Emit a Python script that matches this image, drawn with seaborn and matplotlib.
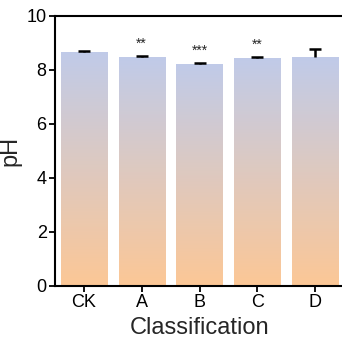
import numpy as np
import pandas as pd
import matplotlib
matplotlib.use("Agg")
import matplotlib.pyplot as plt
import seaborn as sns
from matplotlib.colors import LinearSegmentedColormap

categories = ["CK", "A", "B", "C", "D"]
ph_values = [8.67, 8.47, 8.24, 8.45, 8.47]
ph_errors = [0.03, 0.05, 0.02, 0.04, 0.30]
stars = ["", "**", "***", "**", ""]

sns.set_style("white")
plt.rcParams['font.family'] = ['Liberation Sans', 'DejaVu Sans']

df = pd.DataFrame({"Classification": categories, "pH": ph_values})

fig = plt.figure(figsize=(3.42, 3.47), dpi=100)
ax = fig.add_axes([55/342, (347-286)/347, 289/342, 270/347])

sns.barplot(data=df, x="Classification", y="pH", color="white", width=0.8,
            errorbar=None, ax=ax, zorder=2)

cmap = LinearSegmentedColormap.from_list("g", ["#fcc796", "#c0cbe9"])
grad = np.linspace(0, 1, 256).reshape(-1, 1)
for p in ax.patches:
    x0, w, h = p.get_x(), p.get_width(), p.get_height()
    im = ax.imshow(grad, cmap=cmap, origin="lower", aspect="auto",
                   extent=[x0, x0 + w, 0, h], zorder=2)
    im.set_clip_path(p)
    p.set_edgecolor("none")

xs = np.arange(len(categories))
eb = ax.errorbar(xs, ph_values, yerr=[np.zeros(len(xs)), ph_errors], fmt="none",
                 ecolor="black", elinewidth=1.8, capsize=4, capthick=1.8, zorder=3)
eb[1][0].set_visible(False)
for x, v, e, s in zip(xs, ph_values, ph_errors, stars):
    if s:
        ax.text(x, v + e + 0.2, s, ha="center", va="bottom", fontsize=10)

ax.set_xlim(-0.5, 4.5)
ax.set_ylim(0, 10)
ax.set_yticks([0, 2, 4, 6, 8, 10])
ax.set_xlabel("Classification", fontsize=17)
ax.set_ylabel("pH", fontsize=17)
ax.tick_params(axis="both", labelsize=13, direction="out", length=4, width=1.3,
               bottom=True, left=True, colors="black", pad=2)
for s in ["left", "bottom", "top"]:
    ax.spines[s].set_visible(True)
    ax.spines[s].set_linewidth(1.5)
    ax.spines[s].set_color("black")
ax.spines["right"].set_visible(False)

fig.savefig("out.png", dpi=100)
